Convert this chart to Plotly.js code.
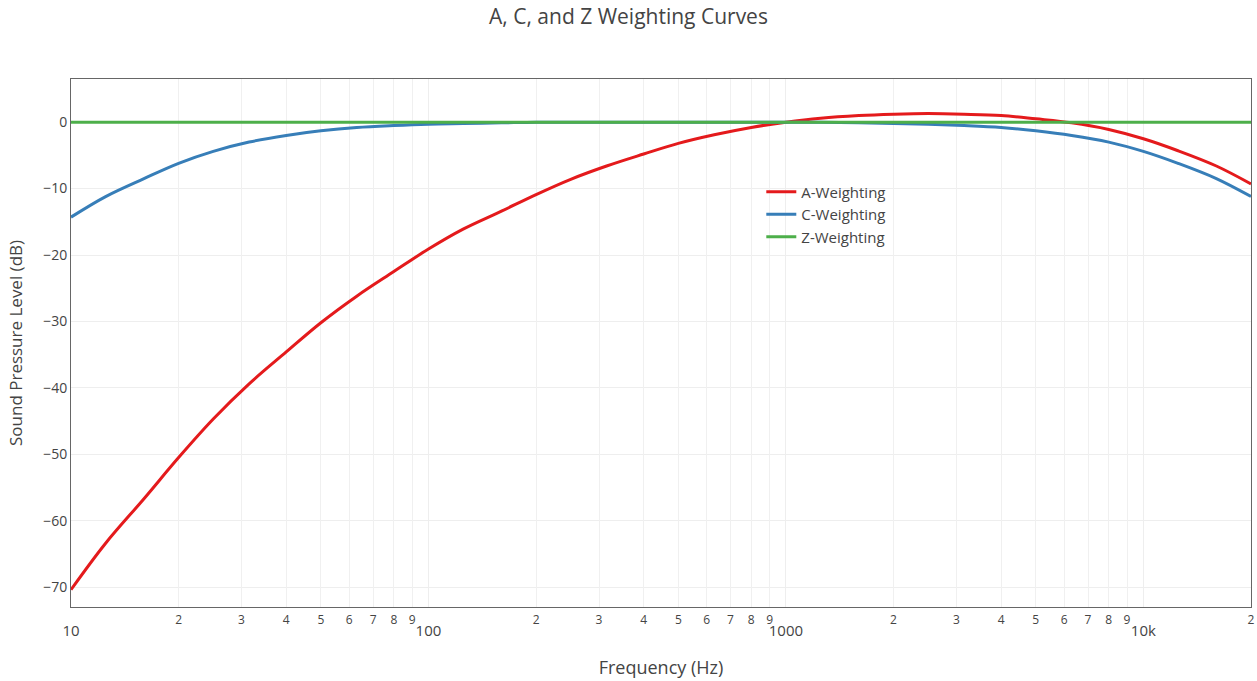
<!DOCTYPE html>
<html>
<head>
<meta charset="utf-8">
<script src="https://cdn.plot.ly/plotly-3.0.1.min.js"></script>
<style>html,body{margin:0;padding:0;background:#fff}#chart{width:1257px;height:681px}</style>
</head>
<body>
<div id="chart"></div>
<script>
const frequencies = [10, 12.5, 16, 20, 25, 31.5, 40, 50, 63, 80, 100, 125, 160, 200, 250, 315, 400, 500, 630, 800, 1000, 1250, 1600, 2000, 2500, 3150, 4000, 5000, 6300, 8000, 10000, 12500, 16000, 20000];
const aWeighting = [-70.4, -63.4, -56.7, -50.5, -44.7, -39.4, -34.6, -30.2, -26.2, -22.5, -19.1, -16.1, -13.4, -10.9, -8.6, -6.6, -4.8, -3.2, -1.9, -0.8, 0, 0.6, 1.0, 1.2, 1.3, 1.2, 1.0, 0.5, -0.1, -1.1, -2.5, -4.3, -6.6, -9.3];
const cWeighting = [-14.3, -11.2, -8.5, -6.2, -4.4, -3.0, -2.0, -1.3, -0.8, -0.5, -0.3, -0.2, -0.1, 0, 0, 0, 0, 0, 0, 0, 0, 0, -0.1, -0.2, -0.3, -0.5, -0.8, -1.3, -2.0, -3.0, -4.4, -6.2, -8.5, -11.2];
const zWeighting = [0, 0, 0, 0, 0, 0, 0, 0, 0, 0, 0, 0, 0, 0, 0, 0, 0, 0, 0, 0, 0, 0, 0, 0, 0, 0, 0, 0, 0, 0, 0, 0, 0, 0];
const seriesNames = ['A-Weighting', 'C-Weighting', 'Z-Weighting'];
const seriesColors = ['#e41a1c', '#377eb8', '#4daf4a'];

// x tick labels
const majorTickVals = [10, 100, 1000, 10000];
const majorTickText = ['10', '100', '1000', '10k'];
const minorTickVals = [20, 30, 40, 50, 60, 70, 80, 90, 200, 300, 400, 500, 600, 700, 800, 900, 2000, 3000, 4000, 5000, 6000, 7000, 8000, 9000, 20000];
const minorTickText = ['2', '3', '4', '5', '6', '7', '8', '9', '2', '3', '4', '5', '6', '7', '8', '9', '2', '3', '4', '5', '6', '7', '8', '9', '2'];

const series = [aWeighting, cWeighting, zWeighting];
const traces = series.map((vals, i) => ({
  x: frequencies, y: vals, name: seriesNames[i], type: 'scatter', mode: 'lines',
  line: {color: seriesColors[i], width: 3, shape: 'spline'}
}));
// invisible trace to carry the minor-label axis
traces.push({x: [frequencies[0], frequencies[frequencies.length - 1]], y: [0, 0], xaxis: 'x2', mode: 'none', showlegend: false, hoverinfo: 'skip'});

const xRange = [Math.log10(frequencies[0]), Math.log10(frequencies[frequencies.length - 1])];

const layout = {
  width: 1257, height: 681,
  margin: {l: 71, r: 6, t: 79, b: 74},
  font: {family: '"Open Sans", sans-serif', color: '#444'},
  paper_bgcolor: '#fff', plot_bgcolor: 'rgba(0,0,0,0)',
  title: {text: 'A, C, and Z Weighting Curves', font: {size: 21}, x: 0.5, xanchor: 'center', y: 0.987, yanchor: 'top'},
  xaxis: {
    type: 'log', range: xRange, tickmode: 'array', tickvals: majorTickVals, ticktext: majorTickText,
    ticklabelstandoff: 10,
    title: {text: 'Frequency (Hz)', font: {size: 18}, standoff: 22},
    tickfont: {size: 15}, showline: true, mirror: true, linecolor: '#666', linewidth: 1,
    gridcolor: '#eee', zeroline: false
  },
  xaxis2: {
    type: 'log', range: xRange, overlaying: 'x', anchor: 'y', side: 'bottom',
    tickmode: 'array', tickvals: minorTickVals, ticktext: minorTickText, ticklabelstandoff: 4,
    tickfont: {size: 12}, showline: false, gridcolor: '#f0f0f0', zeroline: false
  },
  yaxis: {
    range: [-73, 6.5], dtick: 10,
    title: {text: 'Sound Pressure Level (dB)', font: {size: 17}, standoff: 16},
    tickfont: {size: 14}, showline: true, mirror: true, linecolor: '#666', linewidth: 1,
    gridcolor: '#eee', zeroline: false
  },
  legend: {x: 0.585, y: 0.817, xanchor: 'left', yanchor: 'top', bgcolor: 'rgba(0,0,0,0)', font: {size: 15}},
  showlegend: true
};
Plotly.newPlot('chart', traces, layout, {displayModeBar: false});
</script>
</body>
</html>
